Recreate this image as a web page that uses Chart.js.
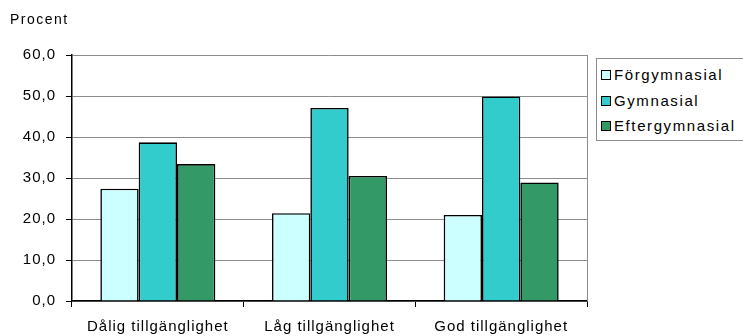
<!DOCTYPE html>
<html>
<head>
<meta charset="utf-8">
<script src="https://cdn.jsdelivr.net/npm/chart.js@4.4.1/dist/chart.umd.min.js"></script>
<style>
  html, body { margin: 0; padding: 0; background: #fff; }
  #wrap { position: relative; width: 743px; height: 336px; overflow: hidden; }
  #chart { position: absolute; left: 0; top: 0; }
  #ytitle {
    position: absolute; left: 10px; top: 11px;
    font: 14px "Liberation Sans", Arial, sans-serif; letter-spacing: 1.5px; color: #000;
  }
  #legend {
    position: absolute; left: 596px; top: 58px; width: 160px; height: 83px;
    border: 1px solid #8c8c8c; box-sizing: border-box; background: #fff;
    font: 15px "Liberation Sans", Arial, sans-serif; letter-spacing: 1.6px; color: #000;
  }
  .item { position: absolute; left: 4px; height: 18px; line-height: 18px; white-space: nowrap; }
  .swatch {
    display: inline-block; width: 8px; height: 8px; border: 1px solid #000;
    margin-right: 3px; vertical-align: 0px;
  }
</style>
</head>
<body>
<div id="wrap">
  <canvas id="chart" width="743" height="336"></canvas>
  <div id="ytitle">Procent</div>
  <div id="legend"></div>
</div>
<script>
// Categories and series
const categories = ['Dålig tillgänglighet', 'Låg tillgänglighet', 'God tillgänglighet'];
const seriesNames = ['Förgymnasial', 'Gymnasial', 'Eftergymnasial'];
const forgymnasial = [27.4, 21.4, 21.0];
const gymnasial = [38.7, 47.1, 49.9];
const eftergymnasial = [33.4, 30.5, 28.9];
const seriesColors = ['#CCFFFF', '#33CCCC', '#339966'];
const yTicks = [0, 10, 20, 30, 40, 50, 60];

const seriesValues = [forgymnasial, gymnasial, eftergymnasial];

// Wider glyph spacing for all canvas text
const spacingPlugin = {
  id: 'spacing',
  beforeDraw(chart) { chart.ctx.letterSpacing = '1px'; }
};

// Grey frame line on the right side of the plot area
const frameRight = {
  id: 'frameRight',
  afterDatasetsDraw(chart) {
    const { ctx, chartArea } = chart;
    ctx.save();
    ctx.strokeStyle = '#8c8c8c';
    ctx.lineWidth = 1;
    ctx.beginPath();
    ctx.moveTo(Math.round(chartArea.right) + 0.5, chartArea.top);
    ctx.lineTo(Math.round(chartArea.right) + 0.5, chartArea.bottom);
    ctx.stroke();
    ctx.restore();
  }
};

const font = { family: '"Liberation Sans", Arial, sans-serif', size: 15 };

new Chart(document.getElementById('chart'), {
  type: 'bar',
  data: {
    labels: categories,
    datasets: seriesNames.map((name, i) => ({
      label: name,
      data: seriesValues[i],
      backgroundColor: seriesColors[i],
      borderColor: '#000',
      borderWidth: 1.6,
      borderSkipped: 'start',
      categoryPercentage: 0.67,
      barPercentage: 1.0
    }))
  },
  options: {
    responsive: false,
    animation: false,
    devicePixelRatio: 1,
    layout: { padding: { left: 0, top: 55, right: 156, bottom: 0 } },
    plugins: { legend: { display: false }, tooltip: { enabled: false } },
    scales: {
      x: {
        offset: true,
        grid: { offset: true, drawOnChartArea: false, tickLength: 6, color: '#000', tickColor: '#000' },
        border: { color: '#000', width: 1.5 },
        ticks: { color: '#000', font: font, padding: 11, maxRotation: 0 },
        afterFit(scale) { scale.height = 35; }
      },
      y: {
        min: 0, max: 60,
        afterBuildTicks(scale) { scale.ticks = yTicks.map(v => ({ value: v })); },
        grid: { color: '#8c8c8c', tickColor: '#000', tickLength: 6, lineWidth: 1 },
        border: { color: '#000', width: 1.5 },
        ticks: {
          color: '#000', font: font, padding: 10,
          callback: v => v.toFixed(1).replace('.', ',')
        },
        afterFit(scale) { scale.width = 72; }
      }
    }
  },
  plugins: [spacingPlugin, frameRight]
});

// Legend built from the series
const legend = document.getElementById('legend');
seriesNames.forEach((name, i) => {
  const item = document.createElement('div');
  item.className = 'item';
  item.style.top = (7 + i * 25.5) + 'px';
  item.innerHTML = '<span class="swatch" style="background:' + seriesColors[i] + '"></span>' + name;
  legend.appendChild(item);
});
</script>
</body>
</html>
